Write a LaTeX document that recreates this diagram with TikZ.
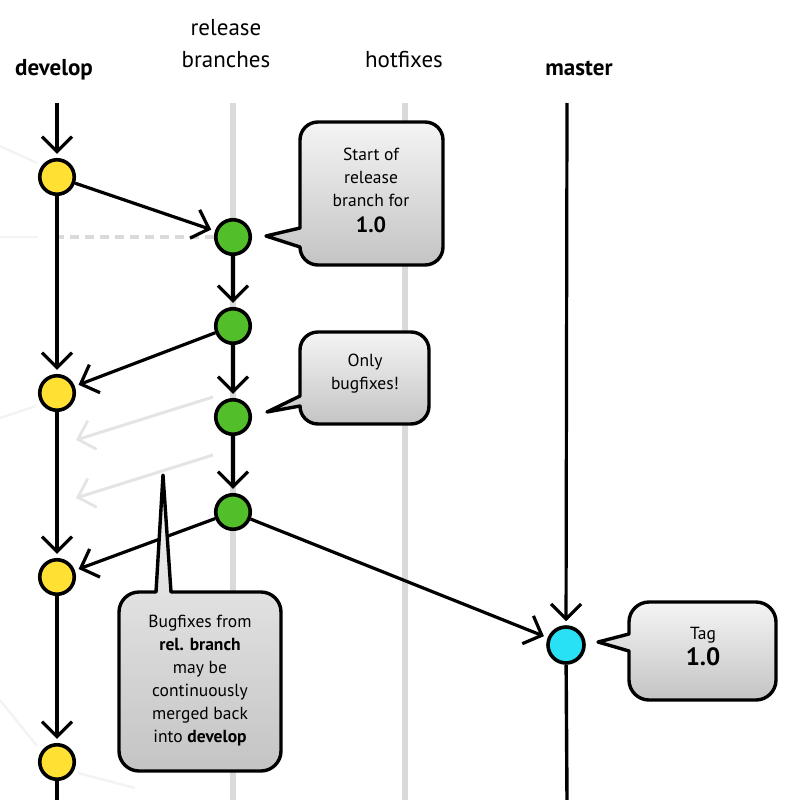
\documentclass[tikz,border=0pt]{standalone}
\usepackage{fontspec}
\setmainfont{PT Sans}
\usetikzlibrary{arrows.meta}
\definecolor{ylw}{HTML}{FFE033}
\definecolor{grn}{HTML}{52BE2A}
\definecolor{cyn}{HTML}{28E1F5}
\definecolor{lanec}{HTML}{DADADA}
\definecolor{fadec}{HTML}{E4E4E4}
\definecolor{ghostc}{HTML}{F3F3F3}
\definecolor{ctop}{HTML}{F4F4F4}
\definecolor{cbot}{HTML}{C4C4C4}
\begin{document}
\begin{tikzpicture}[x=1pt,y=-1pt,
  commit/.style={circle,draw=black,line width=3.6pt,minimum size=34.5pt,inner sep=0pt},
  dev/.style={commit,fill=ylw},
  rel/.style={commit,fill=grn},
  mst/.style={commit,fill=cyn,minimum size=36pt},
  trunk/.style={draw=black,line width=3.4pt},
  lane/.style={draw=lanec,line width=6pt},
  flow/.style={draw=black,line width=3.2pt,-{Straight Barb[length=15pt,width=30pt,line width=3.2pt]},shorten >=4pt},
  faded/.style={draw=fadec,line width=3pt,-{Straight Barb[length=15pt,width=30pt,line width=2.8pt]}},
  ghost/.style={draw=ghostc,line width=2.5pt},
  dashline/.style={draw=lanec,line width=3.8pt,dash pattern=on 9pt off 6pt},
  bubble/.style={draw=black,line width=3.4pt,top color=ctop,bottom color=cbot,line join=round},
  head/.style={anchor=base,font=\fontsize{23}{27}\selectfont},
  bhead/.style={anchor=base,font=\fontsize{23}{27}\selectfont\bfseries},
  txt/.style={align=center,font=\fontsize{17.5}{23}\selectfont,inner sep=0pt}
]
\useasboundingbox (0,0) rectangle (792,800);

% column headers
\node[bhead] (hdev) at (54,75) {develop};
\node[head] (hrel1) at (226,36) {release};
\node[head] (hrel2) at (226,67) {branches};
\node[head] (hhot) at (404,67) {hotfixes};
\node[bhead] (hmst) at (579,75) {master};

% lane ends
\coordinate (dtop) at (57,103);
\coordinate (dbot) at (57,800);
\coordinate (rtop) at (233,103);
\coordinate (rbot) at (233,800);
\coordinate (htop) at (405,103);
\coordinate (hbot) at (405,800);
\coordinate (mtop) at (567,103);
\coordinate (mbot) at (567,800);

\draw[lane] (rtop) -- (rbot);
\draw[lane] (htop) -- (hbot);

% ghost marks on the left edge
\coordinate (ga1) at (0,146);
\coordinate (ga2) at (37,163);
\coordinate (gb1) at (0,237);
\coordinate (gb2) at (38,237);
\coordinate (gc1) at (0,418);
\coordinate (gc2) at (36,406);
\coordinate (gd1) at (0,700);
\coordinate (gd2) at (37,746);
\coordinate (ge1) at (78,773);
\coordinate (ge2) at (135,788);
\draw[ghost] (ga1) -- (ga2);
\draw[ghost] (gb1) -- (gb2);
\draw[ghost] (gc1) -- (gc2);
\draw[ghost] (gd1) -- (gd2);
\draw[ghost] (ge1) -- (ge2);

% commits
\node[dev] (y1) at (57,177) {};
\node[dev] (y2) at (57,393) {};
\node[dev] (y3) at (57,577) {};
\node[dev] (y4) at (57,762) {};
\node[rel] (g1) at (233,237) {};
\node[rel] (g2) at (233,326) {};
\node[rel] (g3) at (233,417) {};
\node[rel] (g4) at (233,512) {};
\node[mst] (c1) at (566,645) {};

% dashed link
\coordinate (dsh) at (55,237);
\draw[dashline] (dsh) -- (g1.west);

% develop
\draw[flow] (dtop) -- (y1);
\draw[flow] (y1) -- (y2);
\draw[flow] (y2) -- (y3);
\draw[flow] (y3) -- (y4);
\draw[trunk] (y4) -- (dbot);

% master
\draw[flow] (mtop) -- (c1);
\draw[trunk] (c1) -- (mbot);

% release branch
\draw[flow] (y1) -- (g1);
\draw[flow] (g1) -- (g2);
\draw[flow] (g2) -- (g3);
\draw[flow] (g3) -- (g4);
\draw[flow] (g2) -- (y2);
\draw[flow] (g4) -- (y3);
\draw[flow] (g4) -- (c1);

% faded merges
\coordinate (f1s) at (213,397);
\coordinate (f1e) at (76,440);
\coordinate (f2s) at (213,455);
\coordinate (f2e) at (76,498);
\draw[faded] (f1s) -- (f1e);
\draw[faded] (f2s) -- (f2e);

% callout 1
\path[bubble] (318,122) -- (425,122) .. controls (435,122) and (443,130) .. (443,140)
  -- (443,247) .. controls (443,257) and (435,265) .. (425,265)
  -- (318,265) .. controls (308,265) and (300,257) .. (300,247)
  -- (266,236) -- (300,228)
  -- (300,140) .. controls (300,130) and (308,122) .. (318,122) -- cycle;
\node[txt] (t1) at (371,190) {Start of\\release\\branch for\\[3pt]{\fontsize{22}{26}\selectfont\bfseries 1.0}};

% callout 2
\path[bubble] (318,332) -- (411,332) .. controls (421,332) and (429,340) .. (429,350)
  -- (429,406) .. controls (429,416) and (421,424) .. (411,424)
  -- (318,424) .. controls (308,424) and (300,416) .. (300,406)
  -- (267,412) -- (300,396)
  -- (300,350) .. controls (300,340) and (308,332) .. (318,332) -- cycle;
\node[txt] (t2) at (365,374) {Only\\bugfixes!};

% callout 3
\path[bubble] (139,592) -- (156,592) -- (163,475) -- (171,592)
  -- (261,592) .. controls (272,592) and (281,601) .. (281,612)
  -- (281,751) .. controls (281,762) and (272,771) .. (261,771)
  -- (139,771) .. controls (128,771) and (119,762) .. (119,751)
  -- (119,612) .. controls (119,601) and (128,592) .. (139,592) -- cycle;
\node[txt] (t3) at (200,681) {Bugfixes from\\\textbf{rel. branch}\\may be\\continuously\\merged back\\into \textbf{develop}};

% callout 4
\path[bubble] (649,602) -- (756,602) .. controls (767,602) and (776,611) .. (776,622)
  -- (776,680) .. controls (776,691) and (767,700) .. (756,700)
  -- (649,700) .. controls (638,700) and (629,691) .. (629,680)
  -- (629,651) -- (598,642) -- (629,634)
  -- (629,622) .. controls (629,611) and (638,602) .. (649,602) -- cycle;
\node[txt] (t4) at (703,647) {Tag\\[3pt]{\fontsize{25}{28}\selectfont\bfseries 1.0}};
\end{tikzpicture}
\end{document}
